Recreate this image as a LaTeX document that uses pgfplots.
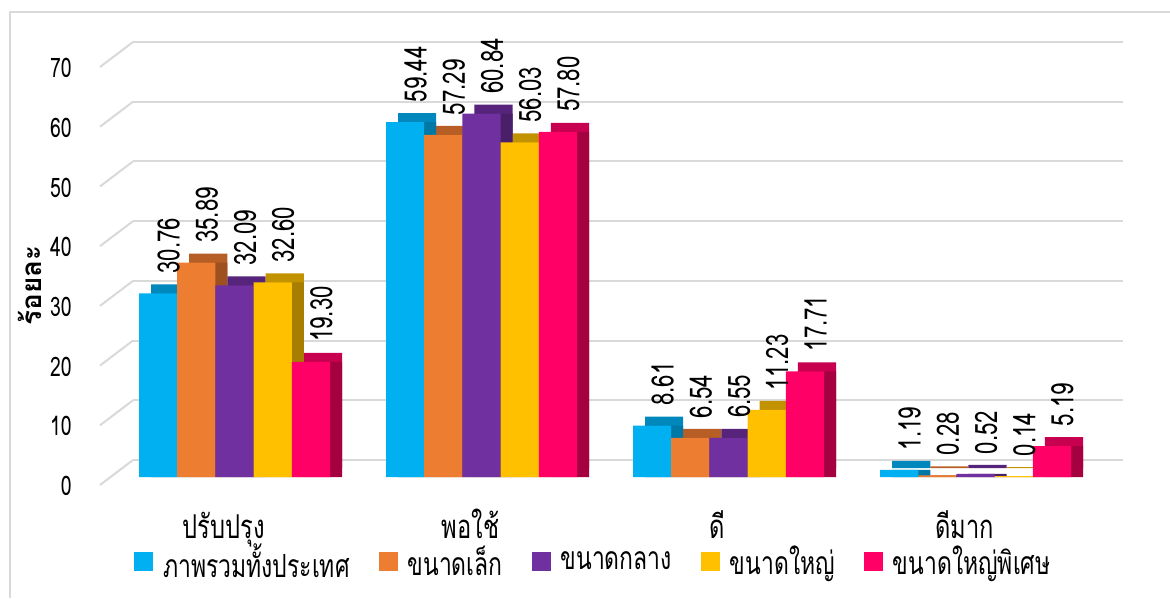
\documentclass[border=0pt]{standalone}
\usepackage{fontspec}
\setmainfont{Loma}[Script=Thai, FakeStretch=0.72]
\newfontfamily\ylfont{Loma}[Script=Thai]
\usepackage{pgfplots}
\pgfplotsset{compat=1.18}
\definecolor{cA}{HTML}{00B0F0}\definecolor{tA}{HTML}{0087BC}\definecolor{sA}{HTML}{0078A6}
\definecolor{cB}{HTML}{ED7D31}\definecolor{tB}{HTML}{B65E25}\definecolor{sB}{HTML}{9F5020}
\definecolor{cC}{HTML}{7030A0}\definecolor{tC}{HTML}{56247B}\definecolor{sC}{HTML}{4A1F6A}
\definecolor{cD}{HTML}{FFC000}\definecolor{tD}{HTML}{C29200}\definecolor{sD}{HTML}{A77E00}
\definecolor{cE}{HTML}{FF0066}\definecolor{tE}{HTML}{C7004F}\definecolor{sE}{HTML}{A5003F}
\definecolor{gridc}{HTML}{D9D9D9}
\pgfplotsset{
  topface/.style={ybar, bar shift=#1, draw=none, xshift=6bp, yshift=4.5bp, forget plot},
  sideface/.style={ybar, bar shift=#1, draw=none, xshift=6bp, forget plot},
  front/.style={ybar, bar shift=#1, draw=none, forget plot, nodes near coords,
    every node near coord/.style={xshift={#1+5.25bp}, yshift=9.75bp, rotate=90, anchor=west, inner sep=0pt,
      font=\fontsize{15.5}{17}\selectfont, /pgf/number format/fixed, /pgf/number format/fixed zerofill,
      /pgf/number format/precision=2, /pgf/number format/assume math mode=true}},
}
\pgfplotstableread{
x A B C D E
0 30.76 35.89 32.09 32.60 19.30
1 59.44 57.29 60.84 56.03 57.80
2 8.61 6.54 6.55 11.23 17.71
3 1.19 0.28 0.52 0.14 5.19
}\data
\begin{document}
\begin{tikzpicture}[x=1bp,y=1bp]
\useasboundingbox (0,0) rectangle (585,299);
\draw[gridc, line width=1bp] (5,0) -- (5,293) -- (585,293);
\begin{axis}[
  at={(66.5bp,60.5bp)}, anchor=south west,
  scale only axis, width=495bp, height=209bp,
  xmin=-0.411, xmax=3.597, ymin=0, ymax=70,
  clip=false,
  axis line style={draw=none},
  tick style={draw=none}, major tick length=0pt,
  ytick={0,10,...,70},
  ymajorgrids, grid style={gridc, line width=1bp, yshift=8.5bp},
  xtick={0,1,2,3},
  xticklabels={ปรับปรุง,พอใช้,ดี,ดีมาก},
  xticklabel style={anchor=base, inner sep=0pt, yshift=-30.5bp, xshift=-5.5bp, font=\fontsize{16.5}{18}\selectfont},
  yticklabel style={anchor=east, inner sep=0pt, xshift=-30.5bp, yshift=-4.5bp, font=\fontsize{13.5}{15}\selectfont},
  /pgf/number format/assume math mode=true,
  ylabel={ร้อยละ},
  every axis y label/.style={at={(axis description cs:-0.104,0.459)}, rotate=90, anchor=center, font=\ylfont\bfseries\fontsize{14}{16}\selectfont},
  bar width=19.1bp,
  legend image code/.code={\fill[#1] (0bp,-4.75bp) rectangle (9.5bp,4.75bp);},
  legend style={at={(axis description cs:0.466,-0.2033)}, anchor=center, draw=none, fill=none,
    font=\fontsize{16}{18}\selectfont,
    /tikz/every odd column/.append style={column sep=3bp},
    /tikz/every even column/.append style={column sep=12.5bp}},
  legend columns=5,
]
% top faces
\addplot[topface=-38.2bp, fill=tA] table[x=x,y=A] {\data};
\addplot[topface=-19.1bp, fill=tB] table[x=x,y=B] {\data};
\addplot[topface=0bp, fill=tC] table[x=x,y=C] {\data};
\addplot[topface=19.1bp, fill=tD] table[x=x,y=D] {\data};
\addplot[topface=38.2bp, fill=tE] table[x=x,y=E] {\data};
% side faces
\addplot[sideface=-38.2bp, fill=sA] table[x=x,y=A] {\data};
\addplot[sideface=-19.1bp, fill=sB] table[x=x,y=B] {\data};
\addplot[sideface=0bp, fill=sC] table[x=x,y=C] {\data};
\addplot[sideface=19.1bp, fill=sD] table[x=x,y=D] {\data};
\addplot[sideface=38.2bp, fill=sE] table[x=x,y=E] {\data};
% front faces
\addplot[front=-38.2bp, fill=cA] table[x=x,y=A] {\data};
\addplot[front=-19.1bp, fill=cB] table[x=x,y=B] {\data};
\addplot[front=0bp, fill=cC] table[x=x,y=C] {\data};
\addplot[front=19.1bp, fill=cD] table[x=x,y=D] {\data};
\addplot[front=38.2bp, fill=cE] table[x=x,y=E] {\data};
\addlegendimage{fill=cA, draw=none}\addlegendentry{ภาพรวมทั้งประเทศ}
\addlegendimage{fill=cB, draw=none}\addlegendentry{ขนาดเล็ก}
\addlegendimage{fill=cC, draw=none}\addlegendentry{ขนาดกลาง}
\addlegendimage{fill=cD, draw=none}\addlegendentry{ขนาดใหญ่}
\addlegendimage{fill=cE, draw=none}\addlegendentry{ขนาดใหญ่พิเศษ}
\pgfplotsinvokeforeach{0,10,...,70}{
  \draw[gridc, line width=1bp] ([yshift=8.5bp]axis cs:-0.411,#1) -- ([xshift=-16.5bp,yshift=-4bp]axis cs:-0.411,#1);
}
\end{axis}
\end{tikzpicture}
\end{document}
